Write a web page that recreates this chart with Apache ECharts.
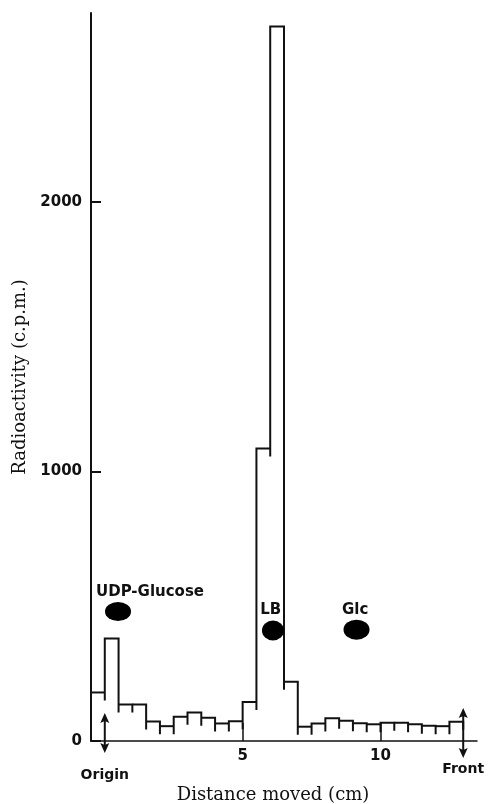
<!DOCTYPE html>
<html><head><meta charset="utf-8">
<script src="https://cdn.jsdelivr.net/npm/echarts@6/dist/echarts.min.js"></script>
<style>html,body{margin:0;padding:0;background:#fff}#c{width:488px;height:804px}</style>
</head><body><div id="c"></div>
<script>
// ---- data ----
const binEdges = [-0.5,0,0.5,1,1.5,2,2.5,3,3.5,4,4.5,5,5.5,6,6.5,7,7.5,8,8.5,9,9.5,10,10.5,11,11.5,12,12.5,13];
const counts = [180,380,135,135,72,55,90,106,86,65,73,145,1085,2650,220,53,65,84,75,66,62,68,68,62,57,55,71];
const yTicks = [0,1000,2000];
const xTicks = [5,10];
const spotNames = ['UDP-Glucose','LB','Glc'];
const spotX = [0.48, 6.1, 9.13];
const spotY = [480, 410, 413];
const labelX = [1.64, 6.02, 9.08];
const labelY = [552, 485, 485];
const markerX = [0, 13];
const markerNames = ['Origin','Front'];

// ---- chart ----
const INK = '#111';
const LABEL_FONT = 'DejaVu Sans';
const TITLE_FONT = 'DejaVu Serif';
const OVER = 8;

const histData = counts.map((v, i) => [binEdges[i], binEdges[i + 1], v]);

const chart = echarts.init(document.getElementById('c'), null, {renderer: 'canvas'});

const markerStyle = [
  {top: 28, bottom: 12, label: 34},
  {top: 33, bottom: 17, label: 28}
];

chart.setOption({
  animation: false,
  backgroundColor: '#fff',
  grid: {left: 91, right: 11, top: 13, bottom: 63, containLabel: false, outerBoundsMode: 'none'},
  xAxis: {
    type: 'value', min: -0.5, max: 13.5,
    axisLine: {onZero: false, lineStyle: {color: INK, width: 1.5}},
    axisTick: {show: true, inside: true, length: 18, lineStyle: {color: INK, width: 1.5}, customValues: xTicks},
    axisLabel: {customValues: xTicks, color: INK, fontFamily: LABEL_FONT, fontWeight: 'bold', fontSize: 15, margin: 8,
      formatter: v => String(v)},
    splitLine: {show: false},
    name: 'Distance moved (cm)', nameLocation: 'middle', nameGap: 45,
    nameTextStyle: {fontFamily: TITLE_FONT, fontSize: 18, color: INK, padding: [0, 22, 0, 0]}
  },
  yAxis: {
    type: 'value', min: 0, max: 2700,
    axisLine: {show: true, onZero: false, lineStyle: {color: INK, width: 2}},
    axisTick: {show: true, inside: true, length: 10, lineStyle: {color: INK, width: 2}, customValues: yTicks},
    axisLabel: {customValues: yTicks, color: INK, fontFamily: LABEL_FONT, fontWeight: 'bold', fontSize: 15, margin: 9,
      formatter: v => String(v)},
    splitLine: {show: false},
    name: 'Radioactivity (c.p.m.)', nameLocation: 'middle', nameGap: 62,
    nameTextStyle: {fontFamily: TITLE_FONT, fontSize: 18, color: INK}
  },
  series: [
    {
      type: 'custom',
      data: histData,
      encode: {x: [0, 1], y: 2},
      clip: false,
      renderItem: function (params, api) {
        const i = params.dataIndex;
        const x0 = api.value(0), x1 = api.value(1), v = api.value(2);
        const prev = i > 0 ? counts[i - 1] : null;
        const next = i < counts.length - 1 ? counts[i + 1] : null;
        const tl = api.coord([x0, v]);
        const tr = api.coord([x1, v]);
        const pts = [];
        if (prev !== null && prev < v) {
          const yP = api.coord([x0, prev])[1];
          pts.push([tl[0], yP + OVER]);
        }
        pts.push(tl, tr);
        if (next === null) {
          pts.push([tr[0], tr[1] + OVER]);
        } else if (next <= v) {
          const yN = api.coord([x1, next])[1];
          pts.push([tr[0], yN + OVER]);
        }
        return {
          type: 'polyline',
          shape: {points: pts},
          style: {stroke: INK, lineWidth: 2, fill: null, lineJoin: 'miter'}
        };
      },
      z: 3
    },
    {
      type: 'scatter',
      data: spotX.map((x, i) => [x, spotY[i]]),
      symbol: 'circle',
      symbolSize: function (val, p) { return [[26, 19], [22, 20], [26, 20]][p.dataIndex]; },
      itemStyle: {color: '#000', opacity: 1},
      z: 4
    },
    {
      type: 'scatter',
      data: labelX.map((x, i) => ({value: [x, labelY[i]], name: spotNames[i]})),
      symbolSize: 0,
      itemStyle: {opacity: 1},
      label: {show: true, position: 'inside', formatter: '{b}', color: INK, opacity: 1,
        fontFamily: LABEL_FONT, fontWeight: 'bold', fontSize: 15},
      z: 5
    },
    {
      type: 'custom',
      data: markerX.map((x, i) => [x, 0]),
      encode: {x: 0, y: 1},
      clip: false,
      renderItem: function (params, api) {
        const i = params.dataIndex;
        const s = markerStyle[i];
        const p = api.coord([api.value(0), api.value(1)]);
        const x = p[0], y = p[1];
        const yT = y - s.top, yB = y + s.bottom;
        return {
          type: 'group',
          children: [
            {type: 'line', shape: {x1: x, y1: yT + 5, x2: x, y2: yB - 5}, style: {stroke: INK, lineWidth: 2}},
            {type: 'polygon', shape: {points: [[x, yT], [x - 4.5, yT + 10], [x, yT + 8], [x + 4.5, yT + 10]]}, style: {fill: INK}},
            {type: 'polygon', shape: {points: [[x, yB], [x - 4.5, yB - 10], [x, yB - 8], [x + 4.5, yB - 10]]}, style: {fill: INK}},
            {type: 'text', x: x, y: y + s.label, style: {text: markerNames[i], align: 'center', verticalAlign: 'middle',
              fill: INK, font: 'bold 14px "' + LABEL_FONT + '"'}}
          ]
        };
      },
      z: 6
    }
  ]
});
</script>
</body></html>
